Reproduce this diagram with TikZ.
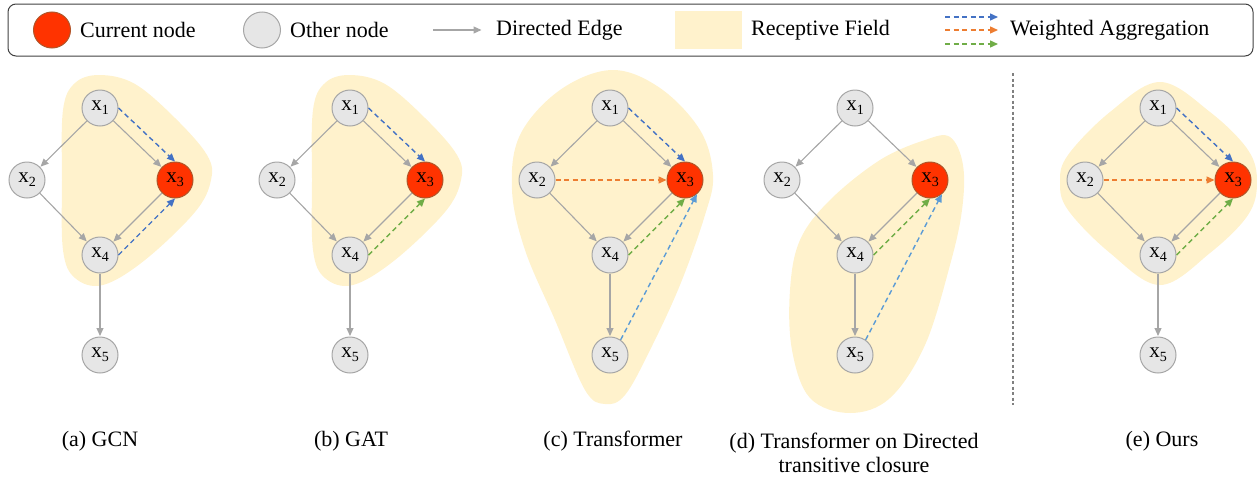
\documentclass[tikz,border=0pt]{standalone}
\usepackage{fontspec}
\setmainfont{Liberation Serif}
\usetikzlibrary{arrows.meta,shapes.geometric}
\definecolor{ngray}{HTML}{E6E6E6}
\definecolor{nline}{HTML}{A6A6A6}
\definecolor{cred}{HTML}{FF3300}
\definecolor{cline}{HTML}{B0552A}
\definecolor{rfield}{HTML}{FFF2CC}
\definecolor{eblue}{HTML}{4472C4}
\definecolor{lblue}{HTML}{5B9BD5}
\definecolor{eorange}{HTML}{ED7D31}
\definecolor{egreen}{HTML}{70AD47}
\definecolor{boxline}{HTML}{404040}
\newcommand{\xs}[1]{x\raisebox{-0.45ex}{\fontsize{14}{14}\selectfont #1}}
\tikzset{
  onode/.style={circle,draw=nline,fill=ngray,line width=1pt,minimum size=36pt,inner sep=0pt,font=\fontsize{21}{21}\selectfont},
  cnode/.style={circle,draw=cline,fill=cred,line width=1pt,minimum size=36pt,inner sep=0pt,font=\fontsize{21}{21}\selectfont},
  edge/.style={draw=nline,line width=1.1pt,-{Triangle[length=8pt,width=7pt]},shorten >=0.5pt},
  agg/.style={dashed,dash pattern=on 5pt off 3.5pt,line width=1.4pt,-{Triangle[length=8pt,width=7pt]}},
  field/.style={fill=rfield,draw=none},
  txt/.style={font=\fontsize{22}{24}\selectfont,inner sep=0pt}
}
\newcommand{\dagpanel}[2]{%
 \begin{scope}[shift={(#2,0)}]
 \node[onode] (#1n1) at (0,108) {\xs{1}};
 \node[onode] (#1n2) at (-73,180) {\xs{2}};
 \node[cnode] (#1n3) at (75,180) {\xs{3}};
 \node[onode] (#1n4) at (0,255) {\xs{4}};
 \node[onode] (#1n5) at (0,355) {\xs{5}};
 \draw[edge] (#1n1) -- (#1n2);
 \draw[edge] (#1n1) -- (#1n3);
 \draw[edge] (#1n2) -- (#1n4);
 \draw[edge] (#1n3) -- (#1n4);
 \draw[edge] (#1n4) -- (#1n5);
 \end{scope}}
\begin{document}
\begin{tikzpicture}[x=1pt,y=-1pt]
\useasboundingbox (0,0) rectangle (1257,477);
% receptive fields
\fill[field] plot[smooth cycle,tension=0.6] coordinates {(100,75) (135,84) (175,118) (207,155) (211,180) (195,212) (145,260) (103,285) (75,278) (63,250) (62,180) (63,110) (75,83)};
\fill[field] plot[smooth cycle,tension=0.6] coordinates {(350,75) (385,84) (425,118) (457,155) (461,180) (445,212) (395,260) (353,285) (325,278) (313,250) (312,180) (313,110) (325,83)};
\fill[field] plot[smooth cycle,tension=0.6] coordinates {(612,70) (660,88) (700,130) (713,175) (705,215) (680,285) (650,350) (625,395) (605,404) (585,390) (555,320) (525,250) (512,190) (520,135) (560,90)};
\fill[field] plot[smooth cycle,tension=0.6] coordinates {(950,137) (963,165) (962,210) (950,265) (925,345) (890,398) (850,413) (810,398) (792,350) (790,290) (800,240) (830,200) (880,160) (925,140)};
\fill[field] plot[smooth cycle,tension=0.6] coordinates {(1160,82) (1210,112) (1248,150) (1257,182) (1248,215) (1210,253) (1160,285) (1110,253) (1068,210) (1060,182) (1068,155) (1110,112)};
% legend
\draw[boxline,line width=1pt,rounded corners=8pt] (8,4) rectangle (1253,56);
\node[ellipse,draw=cline,fill=cred,line width=1pt,minimum width=37pt,minimum height=36pt,inner sep=0pt] (lc) at (52,30) {};
\node[txt,anchor=west] (lct) at (80,30) {Current node};
\node[ellipse,draw=nline,fill=ngray,line width=1pt,minimum width=37pt,minimum height=36pt,inner sep=0pt] (lo) at (262,30) {};
\node[txt,anchor=west] (lot) at (290,30) {Other node};
\coordinate (lea) at (433,30);
\coordinate (leb) at (482,30);
\draw[edge] (lea) -- (leb);
\node[txt,anchor=west] (let) at (496,30) {Directed Edge};
\node[fill=rfield,minimum width=67pt,minimum height=38pt,inner sep=0pt] (lr) at (708,30) {};
\node[txt,anchor=west] (lrt) at (751,30) {Receptive Field};
\coordinate (lb1) at (945,17); \coordinate (lb2) at (998,17);
\coordinate (lo1) at (945,30); \coordinate (lo2) at (998,30);
\coordinate (lg1) at (945,44); \coordinate (lg2) at (998,44);
\draw[agg,eblue] (lb1) -- (lb2);
\draw[agg,eorange] (lo1) -- (lo2);
\draw[agg,egreen] (lg1) -- (lg2);
\node[txt,anchor=west] (lwt) at (1010,30) {Weighted Aggregation};
% panels
\dagpanel{a}{100}
\dagpanel{b}{350}
\dagpanel{c}{610}
\dagpanel{d}{855}
\dagpanel{e}{1158}
% aggregation arrows
\draw[agg,eblue] (an1.east) -- (an3.north);
\draw[agg,eblue] (an4.east) -- (an3.south);
\draw[agg,eblue] (bn1.east) -- (bn3.north);
\draw[agg,egreen] (bn4.east) -- (bn3.south);
\draw[agg,eblue] (cn1.east) -- (cn3.north);
\draw[agg,eorange] (cn2.east) -- (cn3.west);
\draw[agg,egreen] (cn4.east) -- (cn3.south);
\draw[agg,lblue] (cn5.55) -- (cn3.-50);
\draw[agg,egreen] (dn4.east) -- (dn3.south);
\draw[agg,lblue] (dn5.55) -- (dn3.-50);
\draw[agg,eblue] (en1.east) -- (en3.north);
\draw[agg,eorange] (en2.east) -- (en3.west);
\draw[agg,egreen] (en4.east) -- (en3.south);
% divider
\coordinate (dv1) at (1013,73);
\coordinate (dv2) at (1013,405);
\draw[gray,line width=1.2pt,dash pattern=on 3pt off 2.5pt] (dv1) -- (dv2);
% captions
\node[txt] (capa) at (100,441) {(a) GCN};
\node[txt] (capb) at (351,441) {(b) GAT};
\node[txt] (capc) at (613,441) {(c) Transformer};
\node[txt,align=center] (capd) at (854,453) {(d) Transformer on Directed\\transitive closure};
\node[txt] (cape) at (1162,441) {(e) Ours};
\end{tikzpicture}
\end{document}
